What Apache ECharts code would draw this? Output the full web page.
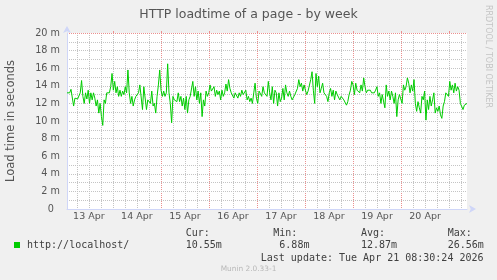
<!DOCTYPE html>
<html>
<head>
<meta charset="utf-8">
<script src="https://cdn.jsdelivr.net/npm/echarts@6/dist/echarts.min.js"></script>
<style>
html,body{margin:0;padding:0;background:#f0f0f0;}
#c{width:497px;height:280px;}
</style>
</head>
<body>
<div id="c"></div>
<script>
// ---- data (load time, milliseconds), ~40 min samples ----
const dayLabels = ['13 Apr','14 Apr','15 Apr','16 Apr','17 Apr','18 Apr','19 Apr','20 Apr'];
const dayBoundaries = [0,1,2,3,4,5,6,7];
const yTickValues = [0,2,4,6,8,10,12,14,16,18,20];

const seg1 = [13.2,13.4,13.2,13.6,13.7,11.7,12.6,12.8,12.5,12.3,13.2,14.6,12.8,12.0,13.2,12.5,13.5,12.0,13.2,12.4,
  13.2,12.6,11.7,12.4,10.9,12.0,10.5,9.5,12.4,12.0,13.2,13.4,13.2,13.9,15.4,13.5,14.5,13.2,13.9,12.8,
  13.5,12.8,13.4,13.0,13.9,13.2,15.8,13.2,12.0,12.8,11.7,12.4,12.8,13.0,13.2,14.1,13.9,11.3,13.9,14.1,
  11.3,12.4,12.6,12.0,13.4,11.7,12.0,10.9,12.8,14.1,15.8,13.5,12.8,13.4,12.8,13.2];
const seg2 = [16.5,13.2,12.0,9.8,12.8,12.4,12.6,12.2,13.2,12.2,12.8,11.7,12.6,11.3,12.8,10.9,12.4,12.8,12.8,14.5,
  12.8,13.9,12.4,13.4,12.0,13.2,10.5,12.4,11.7,13.4,12.8,13.2,14.1,13.4,13.2,13.9,12.8,13.5,13.0,13.4,
  12.4,13.5,12.8,13.2,14.2,13.4,14.7,13.7,13.2,13.4,12.6,13.2,13.0,12.6,13.2,12.8,13.5,13.0,12.8,13.5,
  12.4,12.8,12.2,12.6,12.0,13.2,14.3,12.6,12.0,13.4,13.2,12.8,13.9,13.2,13.4,12.8];
const seg3 = [14.5,13.2,12.4,13.9,12.0,13.5,13.2,11.7,13.2,12.2,12.6,13.7,12.4,14.1,13.2,12.8,13.4,12.8,12.4,12.6,
  13.0,13.2,13.7,14.7,13.9,14.3,13.4,14.1,13.5,13.0,13.4,13.2,14.7,15.6,13.5,12.0,15.4,13.9,15.1,13.2,
  13.7,14.3,13.2,13.4,12.8,12.2,13.2,13.7,12.8,13.5,12.4,13.4,13.0,13.2,12.4,12.8,12.6,12.4,12.2,11.8,
  12.2,13.0,13.5,14.5,14.1,13.0,14.3,13.5,13.7,13.2,14.1,13.4,14.9,13.9,13.2,13.5];
const seg4 = [13.4,13.5,13.2,13.4,13.2,13.5,13.9,12.8,13.2,12.0,13.0,12.8,11.5,14.1,12.8,13.4,12.4,13.4,12.8,12.0,
  13.2,10.5,12.4,13.0,12.8,12.0,14.1,13.5,13.9,14.9,14.3,13.2,14.1,13.4,14.7,12.0,11.1,12.2,11.5,10.9,
  12.8,12.4,13.4,10.1,12.4,11.3,12.8,11.7,12.4,13.2,10.9,11.5,11.1,11.7,10.7,10.3,11.7,12.2,13.2,13.4,
  12.8,14.5,13.5,14.1,13.2,14.3,13.4,13.9,13.5,12.0,12.2,11.3,11.8,12.0,12.0];

const seriesName = 'http://localhost/';
const statLabels = ['Cur:','Min:','Avg:','Max:'];
const statValues = ['10.55m',' 6.88m','12.87m','26.56m'];
const lastUpdate = 'Last update: Tue Apr 21 08:30:24 2026';

// ---- build ----
const loadTime = seg1.concat(seg2, seg3, seg4);
const firstSampleDay = -0.955, lastSampleDay = 7.373; // day units, 0 = first day boundary
const stepDays = (lastSampleDay - firstSampleDay) / (loadTime.length - 1);
const seriesData = loadTime.map((v, i) => [firstSampleDay + i * stepDays, v]);

// plot geometry
const G_LEFT = 67, G_RIGHT = 30, G_TOP = 33, G_BOTTOM = 71;
const pxPerDay = (497 - G_LEFT - G_RIGHT) / (lastSampleDay - firstSampleDay);
// helper grid whose axis starts on a whole day, same scale, used only for vertical grid lines
const gridDayStart = -1;
const helperLeft = G_LEFT - (firstSampleDay - gridDayStart) * pxPerDay;

const RED = '#eb9090', GRAY = '#c4c4c4', AXIS = '#cfd6f8', TXT = '#555555';
const mono = '"DejaVu Sans Mono", monospace';
const sans = '"DejaVu Sans", sans-serif';
const dotted = (c) => ({ show:true, showMinLine:false, showMaxLine:false, lineStyle:{ color:c, type:[1,1], width:1 } });
const hidden = { axisLine:{ show:false }, axisTick:{ show:false }, axisLabel:{ show:false } };

const graphics = [
  { type:'text', x:488.5, y:56.5, rotation:-Math.PI/2, silent:true,
    style:{ text:'RRDTOOL / TOBI OETIKER', font:'8px ' + sans, fill:'#c4c4c4', textAlign:'center', textVerticalAlign:'middle' } },
  { type:'text', x:248.5, y:269, silent:true,
    style:{ text:'Munin 2.0.33-1', font:'7.4px ' + sans, fill:'#b8b8b8', textAlign:'center', textVerticalAlign:'middle' } },
  { type:'text', x:483.5, y:258, silent:true,
    style:{ text:lastUpdate, font:'10px ' + mono, fill:'#404040', textAlign:'right', textVerticalAlign:'middle' } }
];
const statX = [185.7, 273.3, 361, 447.7];
statLabels.forEach((s, i) => {
  graphics.push({ type:'text', x:statX[i], y:233.7, silent:true,
    style:{ text:s, font:'10px ' + mono, fill:'#404040', textAlign:'left', textVerticalAlign:'middle' } });
  graphics.push({ type:'text', x:statX[i], y:245.7, silent:true,
    style:{ text:statValues[i], font:'10px ' + mono, fill:'#404040', textAlign:'left', textVerticalAlign:'middle' } });
});

const chart = echarts.init(document.getElementById('c'), null, { renderer:'canvas' });
chart.setOption({
  animation:false,
  backgroundColor:'#f0f0f0',
  title:{ text:'HTTP loadtime of a page - by week', left:'center', top:8.5, padding:0,
    textStyle:{ fontFamily:sans, fontSize:12.5, fontWeight:'normal', color:'#555' } },
  legend:{ data:[seriesName], left:14, top:240, padding:0, icon:'rect', itemWidth:6, itemHeight:6,
    textStyle:{ fontFamily:mono, fontSize:10, color:'#404040', padding:[0,0,0,2] } },
  grid:[
    { left:G_LEFT, right:G_RIGHT, top:G_TOP, bottom:G_BOTTOM, show:true, backgroundColor:'#ffffff', borderWidth:0, containLabel:false, outerBoundsMode:'none' },
    { left:helperLeft, right:G_RIGHT, top:G_TOP, bottom:G_BOTTOM, show:false, containLabel:false, outerBoundsMode:'none' }
  ],
  xAxis:[
    { // main time axis (days)
      type:'value', gridIndex:0, min:firstSampleDay, max:lastSampleDay, z:3,
      axisLine:{ show:true, onZero:false, lineStyle:{ color:AXIS, width:1 }, symbol:['none','arrow'], symbolSize:[6,7], symbolOffset:[0,9] },
      axisTick:{ show:false },
      splitLine:{ show:false },
      axisLabel:{ customValues:dayLabels.map((_, i) => i - 0.5), formatter:(v) => dayLabels[Math.round(v + 0.5)],
        fontFamily:sans, fontSize:9.5, color:TXT, margin:3 }
    },
    Object.assign({ type:'value', gridIndex:1, min:gridDayStart, max:lastSampleDay, interval:0.25, z:0,
      splitLine:dotted(GRAY) }, hidden),
    Object.assign({ type:'value', gridIndex:1, min:gridDayStart, max:lastSampleDay, interval:1, z:1,
      splitLine:dotted(RED) }, hidden, { axisTick:{ show:true, customValues:dayBoundaries, length:2, lineStyle:{ color:RED } } })
  ],
  yAxis:[
    {
      type:'value', gridIndex:0, min:0, max:20, interval:1, z:3,
      name:'Load time in seconds', nameLocation:'middle', nameGap:50,
      nameTextStyle:{ fontFamily:sans, fontSize:11.5, color:TXT },
      axisLine:{ show:true, onZero:false, lineStyle:{ color:AXIS, width:1 }, symbol:['none','arrow'], symbolSize:[6,7], symbolOffset:[0,7] },
      axisTick:{ show:false },
      splitLine:dotted(GRAY),
      axisLabel:{ fontFamily:sans, fontSize:9.7, color:TXT, margin:7,
        formatter:(v) => (yTickValues.indexOf(v) < 0 ? '' : (v === 0 ? '0\u00a0\u00a0' : v + ' m')) }
    },
    Object.assign({ type:'value', gridIndex:0, min:0, max:20, interval:2, position:'left', z:1,
      splitLine:{ show:true, showMinLine:false, showMaxLine:true, lineStyle:{ color:RED, type:[1,1], width:1 } } }, hidden),
    Object.assign({ type:'value', gridIndex:1, min:0, max:20, splitLine:{ show:false } }, hidden)
  ],
  graphic:graphics,
  series:[
    { type:'line', name:seriesName, xAxisIndex:0, yAxisIndex:0, data:seriesData, z:5, showSymbol:false, symbol:'none',
      lineStyle:{ color:'#00cc00', width:1 }, itemStyle:{ color:'#00cc00' } }
  ]
});
</script>
</body>
</html>
